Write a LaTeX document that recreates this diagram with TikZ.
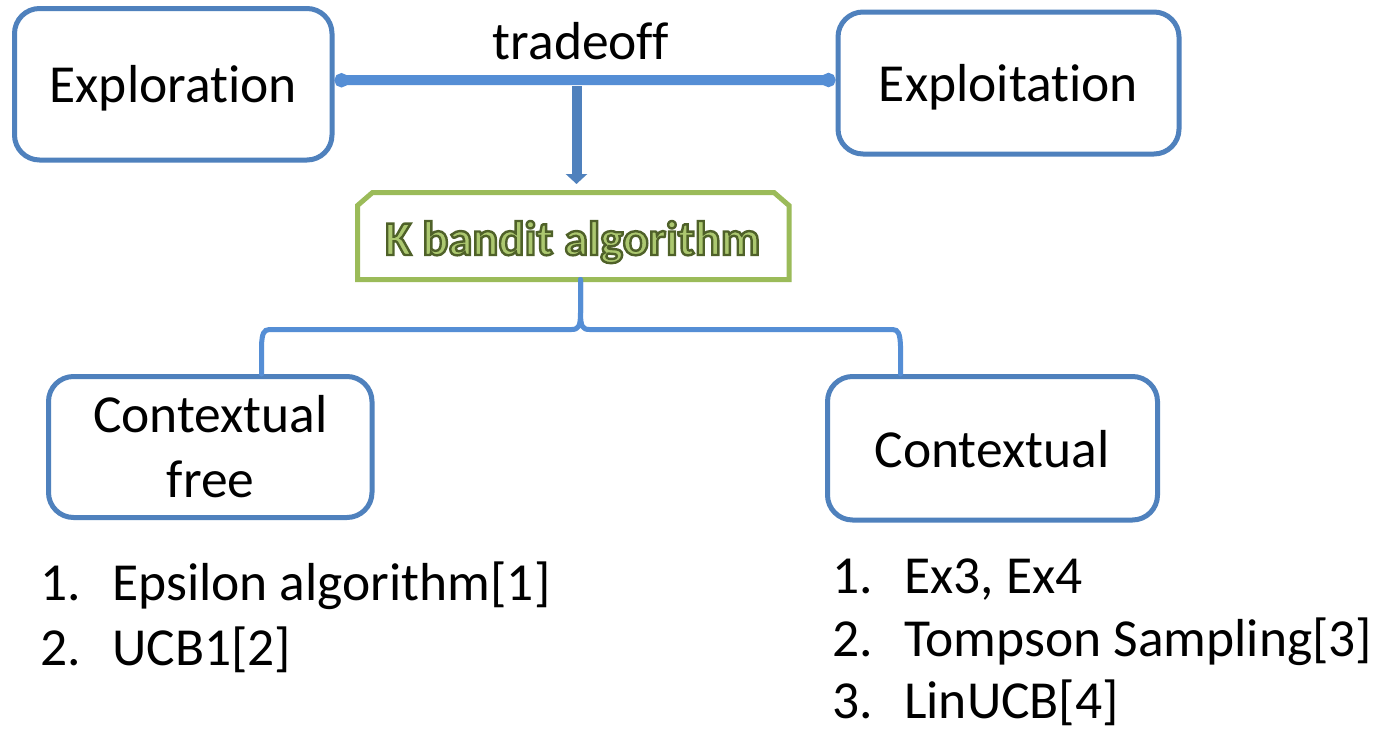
\documentclass[tikz,border=0pt]{standalone}
\usepackage{fontspec}
\setmainfont{Carlito}[Ligatures=NoCommon]
\usetikzlibrary{arrows.meta,calc}
\definecolor{boxblue}{RGB}{79,129,189}
\definecolor{linkblue}{RGB}{85,142,213}
\definecolor{kgreen}{RGB}{155,187,89}
\definecolor{kfill}{RGB}{172,200,112}
% outlined lettering: fill with the current colour, stroke in dark green
\newcommand{\outlinedtext}[1]{\special{pdf:literal direct 0.31 0.38 0.16 RG 2.4 w 2 Tr}#1\special{pdf:literal direct 0 Tr}}
\begin{document}
\begin{tikzpicture}[x=1pt,y=-1pt,
  roundbox/.style={draw=boxblue,line width=5pt,rounded corners=25pt,inner sep=0pt,fill=white},
  lbl/.style={anchor=base,inner sep=0pt,font=\fontsize{53.5}{62}\selectfont},
  itm/.style={anchor=base west,inner sep=0pt,font=\fontsize{53.5}{62}\selectfont},
  link/.style={draw=linkblue,line width=5pt,line cap=round}]

\fill[white] (0,0) rectangle (1381,729);
\useasboundingbox (0,0) rectangle (1381,729);

% top pair of boxes
\node[roundbox,minimum width=317.5pt,minimum height=151.5pt] (explor) at (173.25,84.25) {};
\node[lbl] (explorT) at (173.25,102) {Exploration};
\node[roundbox,minimum width=341pt,minimum height=142pt] (exploit) at (1008.5,83) {};
\node[lbl] (exploitT) at (1008.5,101) {Exploitation};
\node[lbl] (trade) at (581,59) {tradeoff};

% tradeoff bar
\draw[draw=linkblue,line width=10pt,
  {Circle[length=14pt,width=14pt]}-{Circle[length=14pt,width=14pt]}]
  ([yshift=4pt]explor.east) -- ([yshift=3pt]exploit.west);

% central algorithm box with clipped top corners
\node[inner sep=0pt,outer sep=0pt,minimum width=431.5pt,minimum height=87pt] (kband) at (573.25,236) {};
\draw[draw=kgreen,line width=5pt,fill=white,line join=miter]
  (kband.south west) -- ([yshift=-13pt]kband.north west) -- ([xshift=15pt]kband.north west)
  -- ([xshift=-15pt]kband.north east) -- ([yshift=-13pt]kband.north east) -- (kband.south east) -- cycle;
\node[anchor=base,inner sep=0pt,text=kfill,font=\bfseries\fontsize{48.5}{57}\selectfont] (kbandT) at (572.5,255)
  {\outlinedtext{K bandit algorithm}};

% arrow from the bar down to the algorithm box
\coordinate (split) at (576.5,86);
\draw[draw=boxblue,line width=10pt,-{Triangle[width=21pt,length=10pt]},shorten >=8.5pt]
  (split) -- (split |- kband.north);

% lower boxes
\node[roundbox,minimum width=323.5pt,minimum height=141pt] (cfree) at (210.25,447) {};
\node[lbl] (cfreeA) at (210.5,432) {Contextual};
\node[lbl] (cfreeB) at (210.5,497) {free};
\node[roundbox,minimum width=330pt,minimum height=143.5pt] (ctx) at (992.5,448.25) {};
\node[lbl] (ctxT) at (992,467) {Contextual};

% brace joining the algorithm box to both families
\coordinate (btip) at ([xshift=7.25pt]kband.south);
\coordinate (lend) at ([xshift=51.25pt]cfree.north);
\coordinate (rend) at ([xshift=-92pt]ctx.north);
\draw[link] (btip) -- ($(btip)+(0,33)$)
  .. controls ($(btip)+(0,47)$) and ($(btip)+(-2,50)$) .. ($(btip)+(-9,50)$)
  -- ($(lend)+(8,-44.5)$)
  .. controls ($(lend)+(2,-44.5)$) and ($(lend)+(0.5,-40)$) .. ($(lend)+(0,-28)$)
  -- (lend);
\draw[link] (btip) -- ($(btip)+(0,33)$)
  .. controls ($(btip)+(0,47)$) and ($(btip)+(2,50)$) .. ($(btip)+(9,50)$)
  -- ($(rend)+(-8,-44.5)$)
  .. controls ($(rend)+(-2,-44.5)$) and ($(rend)+(-0.5,-40)$) .. ($(rend)+(0,-28)$)
  -- (rend);

% algorithm lists
\node[itm] (l1n) at (40,600) {1.};
\node[itm] (l1t) at (112,600) {Epsilon algorithm[1]};
\node[itm] (l2n) at (40,665) {2.};
\node[itm] (l2t) at (112,665) {UCB1[2]};

\node[itm] (r1n) at (832,593) {1.};
\node[itm] (r1t) at (904,593) {Ex3, Ex4};
\node[itm] (r2n) at (832,656) {2.};
\node[itm] (r2t) at (904,656) {Tompson Sampling[3]};
\node[itm] (r3n) at (832,718.5) {3.};
\node[itm] (r3t) at (904,718.5) {LinUCB[4]};
\end{tikzpicture}
\end{document}
